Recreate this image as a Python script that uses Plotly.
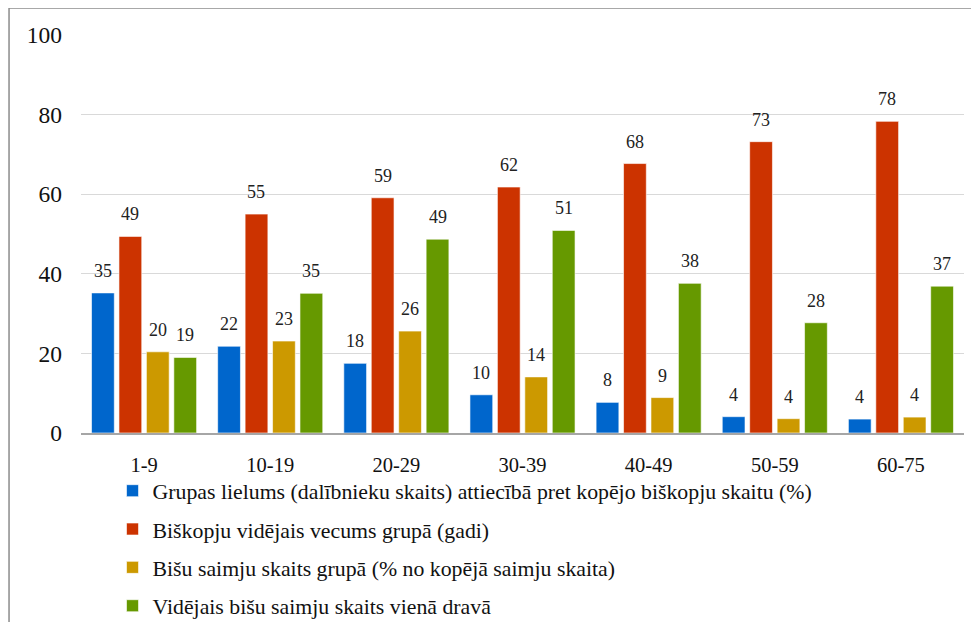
import plotly.graph_objects as go

categories = ["1-9", "10-19", "20-29", "30-39", "40-49", "50-59", "60-75"]

names = [
    "Grupas lielums (dalībnieku skaits) attiecībā pret kopējo biškopju skaitu (%)",
    "Biškopju vidējais vecums grupā (gadi)",
    "Bišu saimju skaits grupā (% no kopējā saimju skaita)",
    "Vidējais bišu saimju skaits vienā dravā",
]
group_size = [35.2, 21.8, 17.5, 9.6, 7.7, 4.1, 3.5]
avg_age = [49.4, 55.0, 59.1, 61.8, 67.7, 73.2, 78.3]
colonies_share = [20.4, 23.1, 25.6, 14.1, 8.9, 3.6, 4.0]
colonies_per_apiary = [19.0, 35.1, 48.7, 50.9, 37.6, 27.7, 36.9]
colors = ["#0066CC", "#CC3300", "#CC9900", "#669900"]

series = [group_size, avg_age, colonies_share, colonies_per_apiary]
SERIF = "Liberation Serif, Times New Roman, serif"

W, H = 971, 614          # page body has an 8px margin, so figure is a bit smaller than window
ML, MR, MT, MB = 73, 15, 27, 189
BARGAP = 0.13

fig = go.Figure()
for i, (name, vals, col) in enumerate(zip(names, series, colors)):
    fig.add_trace(go.Bar(
        x=categories, y=vals, name=name,
        marker=dict(color=col, line=dict(color="rgba(255,255,255,0.6)", width=1)),
        legendgroup=f"g{i}",
    ))

# value labels sit a little higher above the bars than plotly's "outside" text
cat_w = (W - ML - MR) / len(categories)
slot = cat_w * (1 - BARGAP) / len(series)
for i, vals in enumerate(series):
    for c, v in zip(categories, vals):
        fig.add_annotation(
            x=c, y=v, text=f"{v:.0f}", showarrow=False,
            xshift=(i - (len(series) - 1) / 2) * slot, yshift=22, yanchor="middle",
            font=dict(family=SERIF, size=18, color="#222"),
        )

fig.update_layout(
    width=W, height=H,
    margin=dict(l=ML, r=MR, t=MT, b=MB, autoexpand=False),
    paper_bgcolor="white", plot_bgcolor="white",
    font=dict(family=SERIF, color="#111"),
    barmode="group", bargap=BARGAP, bargroupgap=0.17,
    showlegend=True,
    legend=dict(
        orientation="v", x=0.0357, xanchor="left", y=-0.093, yanchor="top",
        font=dict(family=SERIF, size=21.8, color="#111"), tracegroupgap=7,
        bgcolor="rgba(0,0,0,0)",
    ),
    # grey frame around the chart (left and top edges are visible)
    shapes=[dict(
        type="rect", xref="paper", yref="paper",
        x0=-0.0815, x1=1.05, y0=-0.6, y1=1.068,
        line=dict(color="#8c8c8c", width=1.5), layer="below",
    )],
)
fig.update_xaxes(
    showgrid=False, showline=True, linecolor="#a6a6a6", linewidth=2,
    tickfont=dict(family=SERIF, size=20.5), ticklabelstandoff=12,
)
fig.update_yaxes(
    range=[0, 100], dtick=20, showgrid=True, gridcolor="#d9d9d9", gridwidth=1,
    zeroline=False, tickfont=dict(family=SERIF, size=23.5), ticklabelstandoff=18,
)

fig.write_html("out.html")
